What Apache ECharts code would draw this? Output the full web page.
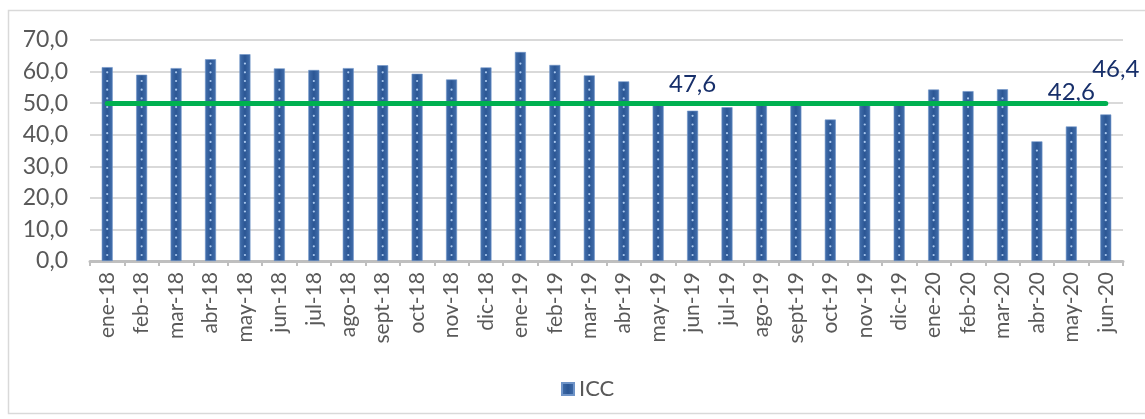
<!DOCTYPE html>
<html>
<head>
<meta charset="utf-8">
<script src="https://cdn.jsdelivr.net/npm/echarts@6/dist/echarts.min.js"></script>
<style>
html,body{margin:0;padding:0;background:#fff;}
#chart{width:1145px;height:419px;}
</style>
</head>
<body>
<div id="chart"></div>
<script>
// ---- data ----
const categories = ['ene-18','feb-18','mar-18','abr-18','may-18','jun-18','jul-18','ago-18','sept-18','oct-18','nov-18','dic-18',
  'ene-19','feb-19','mar-19','abr-19','may-19','jun-19','jul-19','ago-19','sept-19','oct-19','nov-19','dic-19',
  'ene-20','feb-20','mar-20','abr-20','may-20','jun-20'];
const iccValues = [61.4,59.0,61.1,63.9,65.5,61.0,60.5,61.1,62.0,59.3,57.5,61.3,
  66.2,62.1,58.8,56.9,49.8,47.6,48.7,49.8,49.9,44.8,49.8,49.9,
  54.3,53.8,54.4,37.9,42.6,46.4];
const thresholdValue = 50;
const labelledMonths = ['jun-19','may-20','jun-20'];
const yTicks = {min: 0, max: 70, interval: 10};

const FONT = 'Lato, "Open Sans", sans-serif';
const labelOffsets = {'jun-19':[0,-9],'may-20':[0,-17],'jun-20':[10,-28]};

const barData = iccValues.map((v, i) => {
  const c = categories[i];
  if (labelledMonths.indexOf(c) >= 0) {
    return {
      value: v,
      label: {
        show: true, position: 'top', distance: 5,
        offset: labelOffsets[c],
        formatter: p => p.value.toFixed(1).replace('.', ','),
        color: '#172f6a', fontSize: 24, fontFamily: FONT
      }
    };
  }
  return v;
});

const chart = echarts.init(document.getElementById('chart'), null, {renderer: 'canvas'});
chart.setOption({
  animation: false,
  backgroundColor: '#fff',
  graphic: [{
    type: 'rect', silent: true, z: -10,
    shape: {x: 8.5, y: 10.5, width: 1200, height: 403},
    style: {fill: 'none', stroke: '#d9d9d9', lineWidth: 1.5}
  }],
  grid: {left: 90, right: 22, top: 40, bottom: 158},
  legend: {
    data: ['ICC'], left: 556, top: 373,
    icon: 'rect', itemWidth: 12, itemHeight: 12, itemGap: 6,
    textStyle: {color: '#595959', fontSize: 22, fontFamily: FONT}
  },
  xAxis: {
    type: 'category', data: categories, boundaryGap: true,
    axisLine: {lineStyle: {color: '#bfbfbf', width: 3}},
    axisTick: {show: true, length: 5, lineStyle: {color: '#bfbfbf', width: 2}},
    axisLabel: {rotate: 90, margin: 11, color: '#595959', fontSize: 21, fontFamily: FONT, interval: 0}
  },
  yAxis: {
    type: 'value', min: yTicks.min, max: yTicks.max, interval: yTicks.interval,
    axisLine: {show: false}, axisTick: {show: false},
    axisLabel: {margin: 22, color: '#595959', fontSize: 23, fontFamily: FONT,
      formatter: v => v.toFixed(1).replace('.', ',')},
    splitLine: {lineStyle: {color: '#d9d9d9', width: 2}}
  },
  series: [{
    name: 'ICC', type: 'bar', data: barData, barWidth: 11,
    itemStyle: {
      color: new echarts.graphic.LinearGradient(0, 0, 1, 0, [
        {offset: 0, color: '#4470ad'}, {offset: 0.5, color: '#2b5694'}, {offset: 1, color: '#4470ad'}
      ]),
      borderColor: '#6f94c8', borderWidth: 0.6
    },
    markLine: {
      silent: true, symbol: ['none', 'none'],
      lineStyle: {color: '#00b050', width: 5, type: 'solid', cap: 'round'},
      label: {show: false},
      data: [[{coord: [categories[0], thresholdValue]}, {coord: [categories[categories.length - 1], thresholdValue]}]]
    }
  }, {
    name: 'dots', type: 'custom', silent: true, z: 3,
    data: iccValues.map((v, i) => [i, v]),
    renderItem: function (params, api) {
      const top = api.coord([api.value(0), api.value(1)]);
      const base = api.coord([api.value(0), 0]);
      const children = [];
      for (let y = base[1] - 6; y > top[1] + 4; y -= 8.7) {
        children.push({type: 'circle', shape: {cx: base[0], cy: y, r: 1.1}, style: {fill: '#a9c8ee'}});
      }
      return {type: 'group', children: children};
    }
  }]
});
</script>
</body>
</html>
